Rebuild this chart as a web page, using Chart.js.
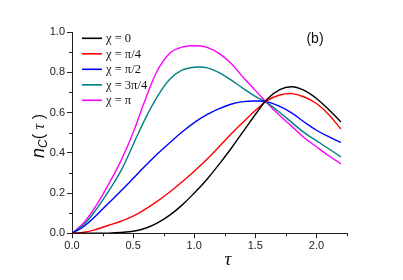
<!DOCTYPE html>
<html>
<head>
<meta charset="utf-8">
<script src="https://cdn.jsdelivr.net/npm/chart.js@4.4.1/dist/chart.umd.min.js"></script>
<style>
html,body{margin:0;padding:0;background:#fff;}
#wrap{width:403px;height:280px;position:relative;}
</style>
</head>
<body>
<div id="wrap"><canvas id="c" width="403" height="280"></canvas></div>
<script>
const tau = [0,0.1,0.2,0.3,0.4,0.5,0.6,0.7,0.8,0.9,1.0,1.1,1.2,1.3,1.4,1.5,1.6,1.7,1.8,1.9,2.0,2.1,2.2];
const chi0    = [0,0,0.0003,0.001,0.004,0.01,0.025,0.052,0.09,0.14,0.2,0.265,0.34,0.42,0.505,0.59,0.668,0.714,0.728,0.71,0.67,0.615,0.553];
const chiPi4  = [0,0.005,0.02,0.04,0.06,0.085,0.12,0.16,0.205,0.255,0.308,0.365,0.428,0.492,0.552,0.61,0.66,0.687,0.694,0.677,0.645,0.59,0.518];
const chiPi2  = [0,0.035,0.09,0.15,0.21,0.272,0.335,0.395,0.45,0.503,0.55,0.588,0.618,0.641,0.654,0.657,0.653,0.63,0.597,0.553,0.512,0.48,0.452];
const chi3Pi4 = [0,0.045,0.12,0.21,0.31,0.44,0.57,0.68,0.765,0.81,0.825,0.823,0.8,0.762,0.72,0.68,0.647,0.6,0.55,0.5,0.46,0.42,0.38];
const chiPi   = [0,0.055,0.14,0.245,0.36,0.5,0.665,0.81,0.895,0.925,0.932,0.925,0.895,0.845,0.775,0.71,0.645,0.585,0.53,0.475,0.43,0.385,0.345];
const labels  = ['χ = 0','χ = π/4','χ = π/2','χ = 3π/4','χ = π'];
const colors  = ['#000000','#ff0000','#0000ff','#008080','#ff00ff'];
const series  = [chi0, chiPi4, chiPi2, chi3Pi4, chiPi];
const xTickLabels = ['0.0','0.5','1.0','1.5','2.0'];
const yTickLabels = ['0.0','0.2','0.4','0.6','0.8','1.0'];

const datasets = series.map((s,i)=>({
  label: labels[i],
  data: tau.map((t,j)=>({x:t,y:s[j]})),
  borderColor: colors[i],
  backgroundColor: colors[i],
  borderWidth: 1.4,
  pointRadius: 0,
  tension: 0.4,
  fill: false
}));

const extras = {
  id: 'extras',
  afterDraw(chart){
    const ctx = chart.ctx;
    const xs = chart.scales.x, ys = chart.scales.y;
    ctx.save();
    // minor ticks
    ctx.strokeStyle = '#222';
    ctx.lineWidth = 1;
    xs.ticks.forEach((t,i)=>{
      if(i%2===1){
        const px = Math.round(xs.getPixelForValue(t.value))+0.5;
        ctx.beginPath(); ctx.moveTo(px, ys.bottom); ctx.lineTo(px, ys.bottom+3); ctx.stroke();
      }
    });
    ys.ticks.forEach((t,i)=>{
      if(i%2===1){
        const py = Math.round(ys.getPixelForValue(t.value))+0.5;
        ctx.beginPath(); ctx.moveTo(xs.left, py); ctx.lineTo(xs.left-3, py); ctx.stroke();
      }
    });
    // legend
    const lx0 = 82, lx1 = 102, tx = 106;
    const rows = [38.3, 53.8, 69.3, 84.8, 100.3];
    ctx.font = '12.5px "Liberation Serif", "DejaVu Serif", serif';
    ctx.textBaseline = 'middle';
    ctx.textAlign = 'left';
    chart.data.datasets.forEach((d,i)=>{
      ctx.strokeStyle = d.borderColor;
      ctx.lineWidth = 1.6;
      ctx.beginPath(); ctx.moveTo(lx0, rows[i]); ctx.lineTo(lx1, rows[i]); ctx.stroke();
      ctx.fillStyle = '#111';
      ctx.fillText(d.label, tx, rows[i]+0.5);
    });
    // panel label
    ctx.font = '14px "Liberation Sans", Arial, sans-serif';
    ctx.fillStyle = '#111';
    ctx.textAlign = 'center';
    ctx.fillText('(b)', 315, 39);
    // x title
    ctx.font = 'italic 19px "Liberation Serif", serif';
    ctx.fillText('τ', 228, 260);
    // y title (rotated)
    ctx.translate(44, 136);
    ctx.rotate(-Math.PI/2);
    ctx.textAlign = 'left';
    ctx.textBaseline = 'alphabetic';
    const parts = [
      {t:'n', f:'italic 18px "Liberation Sans", sans-serif', dy:0},
      {t:'C', f:'italic 12px "Liberation Sans", sans-serif', dy:3},
      {t:'( ', f:'16px "Liberation Sans", sans-serif', dy:0},
      {t:'τ', f:'italic 16px "Liberation Serif", serif', dy:0},
      {t:' )', f:'16px "Liberation Sans", sans-serif', dy:0}
    ];
    let w = 0;
    parts.forEach(p=>{ctx.font=p.f; p.w=ctx.measureText(p.t).width; w+=p.w;});
    let x = -w/2;
    parts.forEach(p=>{ctx.font=p.f; ctx.fillText(p.t, x, p.dy); x+=p.w;});
    ctx.restore();
  }
};

new Chart(document.getElementById('c'), {
  type: 'line',
  data: { datasets },
  options: {
    responsive: false,
    animation: false,
    events: [],
    layout: { padding: { left: 0, top: 32, right: 56, bottom: 0 } },
    plugins: { legend: { display: false }, tooltip: { enabled: false } },
    scales: {
      x: {
        type: 'linear', min: 0, max: 2.25,
        afterFit(s){ s.height = 46.7; },
        border: { display: true, color: '#222', width: 1 },
        grid: { display: true, drawOnChartArea: false, tickLength: 5,
          tickColor: (c)=> (c.index%2===0 ? '#222' : 'rgba(0,0,0,0)') },
        ticks: { stepSize: 0.25, padding: 1, color: '#222', maxRotation: 0, autoSkip: false,
          font: { family: '"Liberation Sans", Arial, sans-serif', size: 11 },
          callback: (v,i)=> (i%2===0 ? xTickLabels[i/2] : '') }
      },
      y: {
        type: 'linear', min: 0, max: 1,
        afterFit(s){ s.width = 72; },
        border: { display: true, color: '#222', width: 1 },
        grid: { display: true, drawOnChartArea: false, tickLength: 5,
          tickColor: (c)=> (c.index%2===0 ? '#222' : 'rgba(0,0,0,0)') },
        ticks: { stepSize: 0.1, padding: 2, color: '#222', autoSkip: false,
          font: { family: '"Liberation Sans", Arial, sans-serif', size: 11 },
          callback: (v,i)=> (i%2===0 ? yTickLabels[i/2] : '') }
      }
    }
  },
  plugins: [extras]
});
</script>
</body>
</html>
